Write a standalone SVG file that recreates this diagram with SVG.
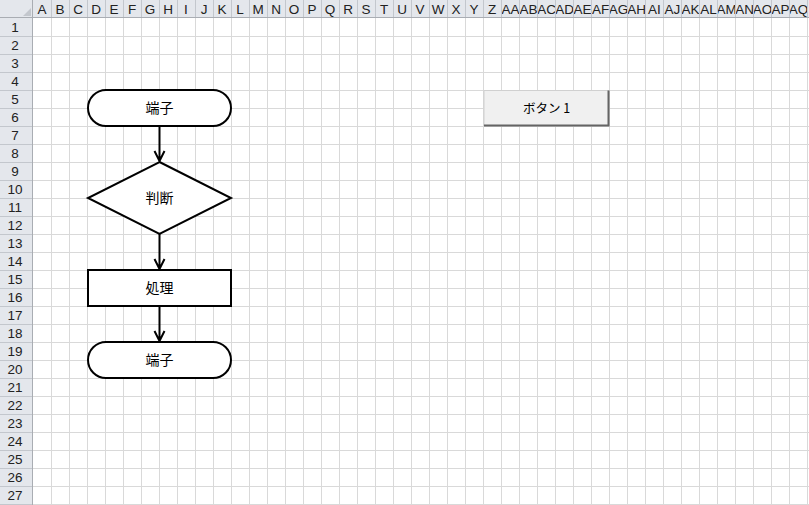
<svg xmlns="http://www.w3.org/2000/svg" width="809" height="505" viewBox="0 0 809 505">
<style>
.hdr{fill:#e4e7ec}
.sep{stroke:#c3c7cd;stroke-width:1;fill:none}
.grid{stroke:#d9d9d9;stroke-width:1;fill:none}
.hl{font-family:"Liberation Sans",Arial,sans-serif;font-size:13.5px;fill:#222;text-anchor:middle}
.shape{fill:#fff;stroke:#000;stroke-width:2}
.lbl{font-family:"Noto Sans CJK JP","Noto Sans",sans-serif;font-size:14px;fill:#000;text-anchor:middle}
.conn{stroke:#000;stroke-width:2;fill:none}
</style>
<rect width="809" height="505" fill="#fff"/>
<g id="sheet">
<rect class="hdr" x="0" y="0" width="809" height="18"/>
<rect class="hdr" x="0" y="0" width="33" height="505"/>
<polygon points="31,8 31,16 23,16" fill="#c3c7cd"/>
<path class="grid" d="M51.5 18V505M69.5 18V505M87.5 18V505M105.5 18V505M123.5 18V505M141.5 18V505M159.5 18V505M177.5 18V505M195.5 18V505M213.5 18V505M231.5 18V505M249.5 18V505M267.5 18V505M285.5 18V505M303.5 18V505M321.5 18V505M339.5 18V505M357.5 18V505M375.5 18V505M393.5 18V505M411.5 18V505M429.5 18V505M447.5 18V505M465.5 18V505M483.5 18V505M501.5 18V505M519.5 18V505M537.5 18V505M555.5 18V505M573.5 18V505M591.5 18V505M609.5 18V505M627.5 18V505M645.5 18V505M663.5 18V505M681.5 18V505M699.5 18V505M717.5 18V505M735.5 18V505M753.5 18V505M771.5 18V505M789.5 18V505M807.5 18V505"/>
<path class="grid" d="M33 36.5H809M33 54.5H809M33 72.5H809M33 90.5H809M33 108.5H809M33 126.5H809M33 144.5H809M33 162.5H809M33 180.5H809M33 198.5H809M33 216.5H809M33 234.5H809M33 252.5H809M33 270.5H809M33 288.5H809M33 306.5H809M33 324.5H809M33 342.5H809M33 360.5H809M33 378.5H809M33 396.5H809M33 414.5H809M33 432.5H809M33 450.5H809M33 468.5H809M33 486.5H809M33 504.5H809"/>
<path class="sep" d="M51.5 0V18M69.5 0V18M87.5 0V18M105.5 0V18M123.5 0V18M141.5 0V18M159.5 0V18M177.5 0V18M195.5 0V18M213.5 0V18M231.5 0V18M249.5 0V18M267.5 0V18M285.5 0V18M303.5 0V18M321.5 0V18M339.5 0V18M357.5 0V18M375.5 0V18M393.5 0V18M411.5 0V18M429.5 0V18M447.5 0V18M465.5 0V18M483.5 0V18M501.5 0V18M519.5 0V18M537.5 0V18M555.5 0V18M573.5 0V18M591.5 0V18M609.5 0V18M627.5 0V18M645.5 0V18M663.5 0V18M681.5 0V18M699.5 0V18M717.5 0V18M735.5 0V18M753.5 0V18M771.5 0V18M789.5 0V18M807.5 0V18"/>
<path class="sep" d="M0 36.5H33M0 54.5H33M0 72.5H33M0 90.5H33M0 108.5H33M0 126.5H33M0 144.5H33M0 162.5H33M0 180.5H33M0 198.5H33M0 216.5H33M0 234.5H33M0 252.5H33M0 270.5H33M0 288.5H33M0 306.5H33M0 324.5H33M0 342.5H33M0 360.5H33M0 378.5H33M0 396.5H33M0 414.5H33M0 432.5H33M0 450.5H33M0 468.5H33M0 486.5H33M0 504.5H33"/>
<path d="M0 17.5H809M32.5 0V505" stroke="#a9adb3" stroke-width="1" fill="none"/>
<g class="hl">
<text x="42" y="13.5">A</text><text x="60" y="13.5">B</text><text x="78" y="13.5">C</text><text x="96" y="13.5">D</text><text x="114" y="13.5">E</text><text x="132" y="13.5">F</text><text x="150" y="13.5">G</text><text x="168" y="13.5">H</text><text x="186" y="13.5">I</text><text x="204" y="13.5">J</text><text x="222" y="13.5">K</text><text x="240" y="13.5">L</text><text x="258" y="13.5">M</text><text x="276" y="13.5">N</text><text x="294" y="13.5">O</text><text x="312" y="13.5">P</text><text x="330" y="13.5">Q</text><text x="348" y="13.5">R</text><text x="366" y="13.5">S</text><text x="384" y="13.5">T</text><text x="402" y="13.5">U</text><text x="420" y="13.5">V</text><text x="438" y="13.5">W</text><text x="456" y="13.5">X</text><text x="474" y="13.5">Y</text><text x="492" y="13.5">Z</text>
</g>
<g class="hl">
<svg x="502" y="0" width="17" height="18"><text x="8.5" y="13.5">AA</text></svg>
<svg x="520" y="0" width="17" height="18"><text x="8.5" y="13.5">AB</text></svg>
<svg x="538" y="0" width="17" height="18"><text x="8.5" y="13.5">AC</text></svg>
<svg x="556" y="0" width="17" height="18"><text x="8.5" y="13.5">AD</text></svg>
<svg x="574" y="0" width="17" height="18"><text x="8.5" y="13.5">AE</text></svg>
<svg x="592" y="0" width="17" height="18"><text x="8.5" y="13.5">AF</text></svg>
<svg x="610" y="0" width="17" height="18"><text x="8.5" y="13.5">AG</text></svg>
<svg x="628" y="0" width="17" height="18"><text x="8.5" y="13.5">AH</text></svg>
<svg x="646" y="0" width="17" height="18"><text x="8.5" y="13.5">AI</text></svg>
<svg x="664" y="0" width="17" height="18"><text x="8.5" y="13.5">AJ</text></svg>
<svg x="682" y="0" width="17" height="18"><text x="8.5" y="13.5">AK</text></svg>
<svg x="700" y="0" width="17" height="18"><text x="8.5" y="13.5">AL</text></svg>
<svg x="718" y="0" width="17" height="18"><text x="8.5" y="13.5">AM</text></svg>
<svg x="736" y="0" width="17" height="18"><text x="8.5" y="13.5">AN</text></svg>
<svg x="754" y="0" width="17" height="18"><text x="8.5" y="13.5">AO</text></svg>
<svg x="772" y="0" width="17" height="18"><text x="8.5" y="13.5">AP</text></svg>
<svg x="790" y="0" width="17" height="18"><text x="8.5" y="13.5">AQ</text></svg>
</g>
<g class="hl">
<text x="15" y="32">1</text><text x="15" y="50">2</text><text x="15" y="68">3</text><text x="15" y="86">4</text><text x="15" y="104">5</text><text x="15" y="122">6</text><text x="15" y="140">7</text><text x="15" y="158">8</text><text x="15" y="176">9</text><text x="15" y="194">10</text><text x="15" y="212">11</text><text x="15" y="230">12</text><text x="15" y="248">13</text><text x="15" y="266">14</text><text x="15" y="284">15</text><text x="15" y="302">16</text><text x="15" y="320">17</text><text x="15" y="338">18</text><text x="15" y="356">19</text><text x="15" y="374">20</text><text x="15" y="392">21</text><text x="15" y="410">22</text><text x="15" y="428">23</text><text x="15" y="446">24</text><text x="15" y="464">25</text><text x="15" y="482">26</text><text x="15" y="500">27</text>
</g>
</g>
<g id="connectors">
<path class="conn" d="M159.5 126V160M154.5 151L159.5 161L164.5 151"/>
<path class="conn" d="M159.5 234V268M154.5 259L159.5 269L164.5 259"/>
<path class="conn" d="M159.5 306V340M154.5 331L159.5 341L164.5 331"/>
</g>
<g id="start">
<rect class="shape" x="88" y="90" width="143" height="36" rx="18" ry="18"/>
<text class="lbl" x="159.5" y="112.5">端子</text>
</g>
<g id="decision">
<polygon class="shape" points="159.5,162 231,198 159.5,234 88,198"/>
<text class="lbl" x="159.5" y="203">判断</text>
</g>
<g id="process">
<rect class="shape" x="88" y="270" width="143" height="36"/>
<text class="lbl" x="159.5" y="293">処理</text>
</g>
<g id="end">
<rect class="shape" x="88" y="342" width="143" height="36" rx="18" ry="18"/>
<text class="lbl" x="159.5" y="365">端子</text>
</g>
<g id="button1">
<rect x="484" y="90.5" width="125" height="35" fill="#f0f0f0" stroke="#d0d0d0" stroke-width="1"/>
<path d="M608.5 90.5V126.5M484 125.5H609" stroke="#646464" stroke-width="2" fill="none"/>
<text x="546.5" y="113" font-family="Noto Sans CJK JP,Noto Sans,sans-serif" font-size="12.5px" fill="#000" text-anchor="middle" xml:space="preserve">ボタン 1</text>
</g>
</svg>
